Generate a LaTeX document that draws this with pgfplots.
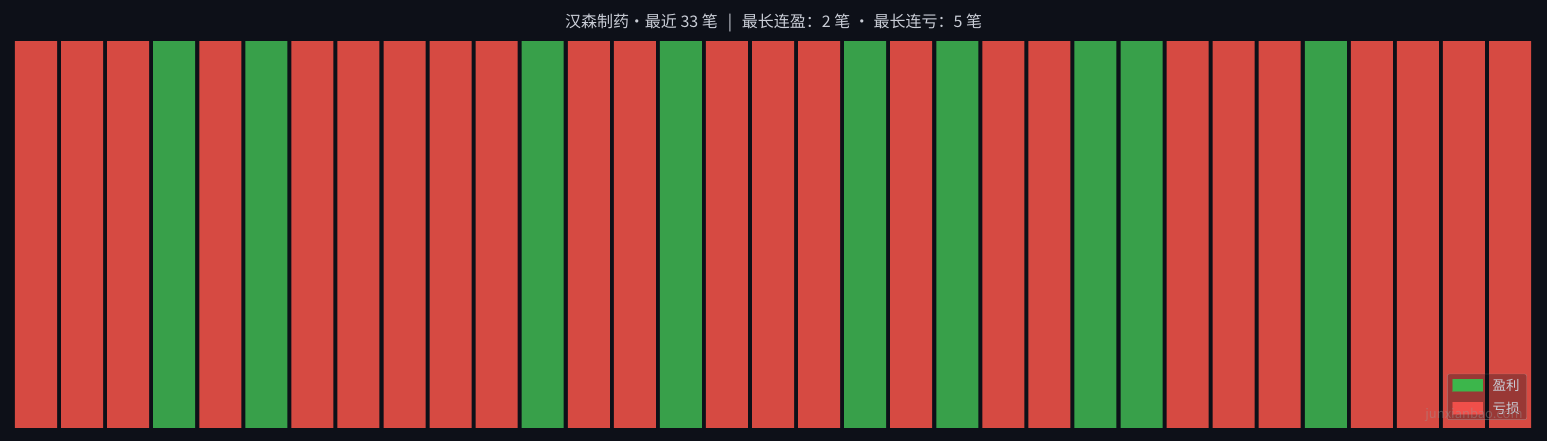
\documentclass[border=0pt]{standalone}
\usepackage{fontspec}
\setmainfont{Noto Sans CJK SC}
\usepackage{pgfplots}
\pgfplotsset{compat=1.18}
\usepackage{xcolor}
\definecolor{bg}{HTML}{0D1018}
\definecolor{winbar}{HTML}{38A04A}
\definecolor{lossbar}{HTML}{D64A42}
\definecolor{winkey}{HTML}{3CB64B}
\definecolor{losskey}{HTML}{F04F4A}
\definecolor{txt}{HTML}{C9CDD6}

\begin{document}
\begin{tikzpicture}
\begin{axis}[
    scale only axis, width=1547pt, height=441pt,
    xmin=-0.7816, xmax=32.803, ymin=-0.0336, ymax=1.106,
    axis line style={draw=none}, ticks=none,
    axis background/.style={fill=bg},
    clip=false,
    ybar, bar width=0.912, bar shift=0pt,
    legend style={at={(rel axis cs:0.987,0.048)}, anchor=south east,
        fill=bg, fill opacity=0.3, draw=gray!60, draw opacity=0.5, text opacity=1,
        text=txt, font=\fontsize{13.5}{15}\selectfont, rounded corners=2pt,
        inner xsep=5pt, inner ysep=3pt, row sep=6pt},
    legend cell align=left,
]
    % wins
    \addplot[draw=none, fill=winbar, forget plot]
        coordinates {(3,1) (5,1) (11,1) (14,1) (18,1) (20,1) (23,1) (24,1) (28,1)};
    % losses
    \addplot[draw=none, fill=lossbar, forget plot]
        coordinates {(0,1) (1,1) (2,1) (4,1) (6,1) (7,1) (8,1) (9,1) (10,1)
            (12,1) (13,1) (15,1) (16,1) (17,1) (19,1) (21,1) (22,1)
            (25,1) (26,1) (27,1) (29,1) (30,1) (31,1) (32,1)};
    \addlegendimage{legend image code/.code={\fill[winkey, fill opacity=1, sharp corners] (0pt,-6pt) rectangle (30pt,6pt); \path (38pt,0pt);}}
    \addlegendentry{盈利}
    \addlegendimage{legend image code/.code={\fill[losskey, fill opacity=1, sharp corners] (0pt,-6pt) rectangle (30pt,6pt); \path (38pt,0pt);}}
    \addlegendentry{亏损}
    \node[text=txt, font=\fontsize{16}{18}\selectfont] at (rel axis cs:0.5,0.948)
        {汉森制药·最近 33 笔 \ \,|\ \, 最长连盈：2 笔 · 最长连亏：5 笔};
\end{axis}
\node[text=gray!80, opacity=0.4, font=\fontsize{13}{15}\selectfont] at (1474pt,26pt) {junxianbao.com};
\end{tikzpicture}
\end{document}
